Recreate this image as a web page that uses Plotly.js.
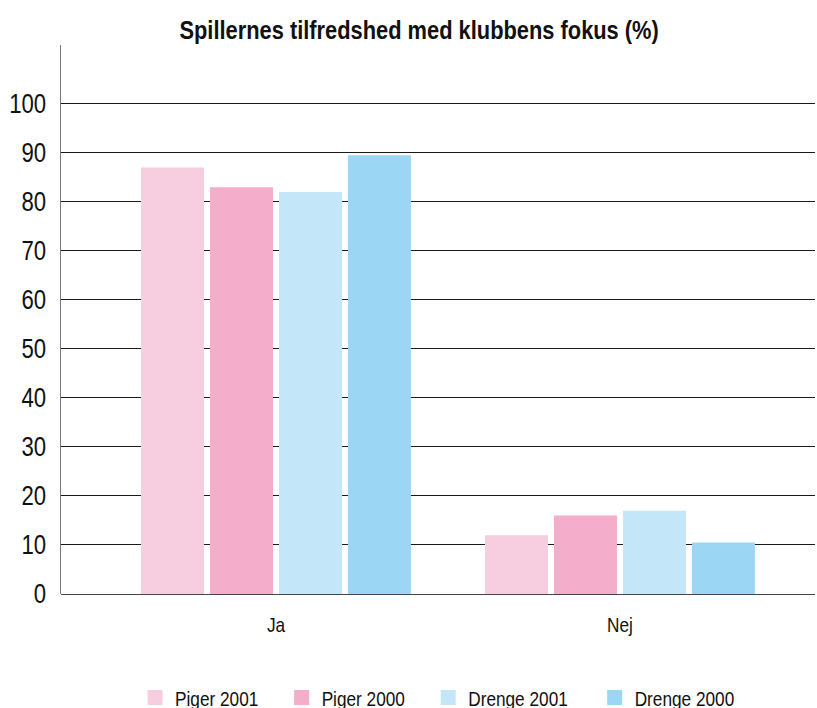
<!DOCTYPE html>
<html>
<head>
<meta charset="utf-8">
<script src="https://cdn.plot.ly/plotly-3.0.1.min.js"></script>
<style>html,body{margin:0;padding:0;background:#fff;}#chart{width:817px;height:708px;}</style>
</head>
<body>
<div id="chart"></div>
<script>
const categories = ["Ja", "Nej"];
const seriesNames = ["Piger 2001", "Piger 2000", "Drenge 2001", "Drenge 2000"];
const piger2001 = [87, 12];
const piger2000 = [83, 16];
const drenge2001 = [82, 17];
const drenge2000 = [89.5, 10.5];
const yTickVals = [0, 10, 20, 30, 40, 50, 60, 70, 80, 90, 100];
const colors = ["#f7cde0", "#f4aecb", "#c3e6f8", "#9bd7f4"];

const fam = "Liberation Sans, Arial, Helvetica, sans-serif";
const values = [piger2001, piger2000, drenge2001, drenge2000];
const traces = values.map((v, i) => ({
  type: "bar",
  name: seriesNames[i],
  x: categories,
  y: v,
  marker: {color: colors[i], line: {width: 0}},
  hoverinfo: "x+y+name"
}));

const layout = {
  width: 817, height: 708,
  margin: {l: 61, r: 2, t: 45, b: 114, autoexpand: false},
  paper_bgcolor: "#fff", plot_bgcolor: "#fff",
  barmode: "group", bargap: 0.198, bargroupgap: 0.087,
  title: {text: "Spillernes tilfredshed med klubbens fokus (%)", font: {family: fam, size: 26, color: "#111", weight: "bold"},
          xref: "container", x: 0.513, xanchor: "center", yref: "container", y: 0.958, yanchor: "middle"},
  xaxis: {type: "category", range: [-0.625, 1.567], showgrid: false, showline: false, zeroline: false, ticks: "",
          tickfont: {family: fam, size: 21, color: "#111"}, ticklabelstandoff: 16},
  yaxis: {range: [0, 112], tickvals: yTickVals, ticktext: yTickVals.map(String), showgrid: true, gridcolor: "#1a1a1a", gridwidth: 1,
          zeroline: true, zerolinecolor: "#444", zerolinewidth: 1, showline: true, linecolor: "#777", linewidth: 1.5, ticks: "",
          tickfont: {family: fam, size: 27, color: "#111"}, ticklabelstandoff: 8},
  legend: {orientation: "h", x: 0.514, xanchor: "center", y: -0.189, yanchor: "middle",
           font: {family: fam, size: 21, color: "#111"}, itemclick: false},
  showlegend: true
};

function squeeze(sel, f) {
  document.querySelectorAll(sel).forEach(t => {
    const w = t.getComputedTextLength();
    if (w > 0) {
      t.setAttribute("textLength", (w * f).toFixed(2));
      t.setAttribute("lengthAdjust", "spacingAndGlyphs");
    }
  });
}

Plotly.newPlot("chart", traces, layout, {displayModeBar: false, staticPlot: true}).then(() => {
  squeeze(".gtitle", 0.84);
  squeeze(".xtick text", 0.82);
  squeeze(".ytick text", 0.82);
  squeeze(".legendtext", 0.82);
  document.querySelectorAll(".legendpoints path").forEach(p => p.setAttribute("d", "M7.5,7.5H-7.5V-7.5H7.5Z"));
});
</script>
</body>
</html>
